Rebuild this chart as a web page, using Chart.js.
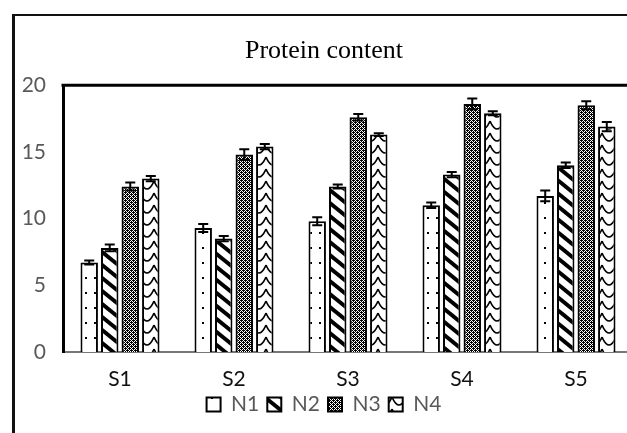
<!DOCTYPE html>
<html>
<head>
<meta charset="utf-8">
<script src="https://cdn.jsdelivr.net/npm/chart.js@4.4.0/dist/chart.umd.min.js"></script>
<style>
  html, body { margin: 0; padding: 0; background: #fff; }
  #wrap { width: 627px; height: 433px; overflow: hidden; position: relative; }
  canvas { display: block; }
</style>
</head>
<body>
<div id="wrap"><canvas id="chart" width="640" height="433"></canvas></div>
<script>
const categories = ['S1', 'S2', 'S3', 'S4', 'S5'];
const seriesNames = ['N1', 'N2', 'N3', 'N4'];
const n1 = [6.7, 9.3, 9.8, 11.0, 11.7];
const n2 = [7.8, 8.5, 12.4, 13.3, 14.0];
const n3 = [12.4, 14.8, 17.6, 18.6, 18.5];
const n4 = [13.0, 15.4, 16.3, 17.9, 16.9];
const n1Err = [0.15, 0.3, 0.3, 0.2, 0.4];
const n2Err = [0.25, 0.2, 0.15, 0.2, 0.2];
const n3Err = [0.3, 0.4, 0.25, 0.4, 0.3];
const n4Err = [0.2, 0.2, 0.1, 0.15, 0.35];
const yTicks = [0, 5, 10, 15, 20];

const canvas = document.getElementById('chart');
const ctx = canvas.getContext('2d');
const sans = 'Lato, "Open Sans", sans-serif';

function makePattern(w, h, draw) {
  const c = document.createElement('canvas');
  c.width = w;
  c.height = h;
  const g = c.getContext('2d');
  g.fillStyle = '#fff';
  g.fillRect(0, 0, w, h);
  g.fillStyle = '#000';
  g.strokeStyle = '#000';
  draw(g, w, h);
  return ctx.createPattern(c, 'repeat');
}

// sparse dots
const dotPattern = makePattern(9, 15, g => {
  g.fillRect(4, 7, 2, 2);
});

// thick "\" stripes
const stripePattern = makePattern(16, 13, (g, w, h) => {
  g.lineWidth = 4;
  for (let o = -w; o <= w; o += w) {
    g.beginPath();
    g.moveTo(o - 2, -2 * h / w);
    g.lineTo(o + w + 2, h + 2 * h / w);
    g.stroke();
  }
});

// dense checker, a bit darker than half
const checkPattern = makePattern(4, 4, g => {
  for (let y = 0; y < 4; y++)
    for (let x = 0; x < 4; x++)
      if ((x + y) % 2 === 0 || (x === 1 && y === 0) || (x === 3 && y === 2)) g.fillRect(x, y, 1, 1);
});

// scallops
const wavePattern = makePattern(14, 12, g => {
  g.lineWidth = 1.6;
  g.beginPath();
  g.moveTo(0, 1);
  g.quadraticCurveTo(7, 17, 14, 1);
  g.stroke();
});

const seriesValues = [n1, n2, n3, n4];
const seriesErrors = [n1Err, n2Err, n3Err, n4Err];
const seriesFills = [dotPattern, stripePattern, checkPattern, wavePattern];

const errorBars = {
  id: 'errorBars',
  afterDatasetsDraw(chart) {
    const c = chart.ctx;
    const yScale = chart.scales.y;
    c.save();
    c.strokeStyle = '#000';
    c.lineWidth = 2;
    chart.data.datasets.forEach((ds, i) => {
      const meta = chart.getDatasetMeta(i);
      meta.data.forEach((bar, j) => {
        const v = ds.data[j];
        const e = seriesErrors[i][j];
        const top = yScale.getPixelForValue(v + e);
        const bot = yScale.getPixelForValue(v - e);
        c.beginPath();
        c.moveTo(bar.x, top);
        c.lineTo(bar.x, bot);
        c.moveTo(bar.x - 5, top);
        c.lineTo(bar.x + 5, top);
        c.moveTo(bar.x - 5, bot);
        c.lineTo(bar.x + 5, bot);
        c.stroke();
      });
    });
    c.restore();
  }
};

const frame = {
  id: 'frame',
  afterDraw(chart) {
    const c = chart.ctx;
    const a = chart.chartArea;
    c.save();
    c.strokeStyle = '#111';
    // outer frame
    c.lineWidth = 2;
    c.beginPath();
    c.moveTo(12, 15);
    c.lineTo(chart.width, 15);
    c.stroke();
    c.lineWidth = 3;
    c.beginPath();
    c.moveTo(13.5, 14);
    c.lineTo(13.5, chart.height);
    c.stroke();
    // plot area top
    c.strokeStyle = '#000';
    c.lineWidth = 3;
    c.beginPath();
    c.moveTo(a.left - 1.5, a.top);
    c.lineTo(chart.width, a.top);
    c.stroke();
    c.restore();
  }
};

new Chart(ctx, {
  type: 'bar',
  data: {
    labels: categories,
    datasets: seriesNames.map((name, i) => ({
      label: name,
      data: seriesValues[i],
      backgroundColor: seriesFills[i],
      borderColor: '#000',
      borderWidth: 2,
      borderSkipped: 'bottom',
      categoryPercentage: 0.72,
      barPercentage: 0.85,
    })),
  },
  options: {
    responsive: false,
    animation: false,
    devicePixelRatio: 1,
    layout: { padding: { left: 15, right: 7, top: 28, bottom: 8 } },
    plugins: {
      title: {
        display: true,
        text: 'Protein content',
        color: '#000',
        font: { family: '"Liberation Serif", "Times New Roman", serif', size: 26, weight: 'normal' },
        padding: { top: 8, bottom: 18 },
      },
      legend: {
        position: 'bottom',
        labels: {
          color: '#595959',
          font: { family: sans, size: 21 },
          boxWidth: 14,
          boxHeight: 14,
          padding: 8,
        },
      },
      tooltip: { enabled: false },
    },
    scales: {
      x: {
        grid: { display: false, drawTicks: false },
        border: { display: true, color: '#777', width: 2 },
        ticks: {
          color: '#111',
          font: { family: sans, size: 21 },
          padding: 15,
        },
        afterFit(scale) {
          scale.height = 34;
        },
      },
      y: {
        min: 0,
        max: 20,
        afterBuildTicks(scale) {
          scale.ticks = yTicks.map(v => ({ value: v }));
        },
        afterFit(scale) {
          scale.width = 48;
        },
        grid: { display: false, drawTicks: false },
        border: { display: true, color: '#000', width: 3 },
        ticks: {
          color: '#595959',
          font: { family: sans, size: 21 },
          padding: 17,
        },
      },
    },
  },
  plugins: [errorBars, frame],
});
</script>
</body>
</html>
